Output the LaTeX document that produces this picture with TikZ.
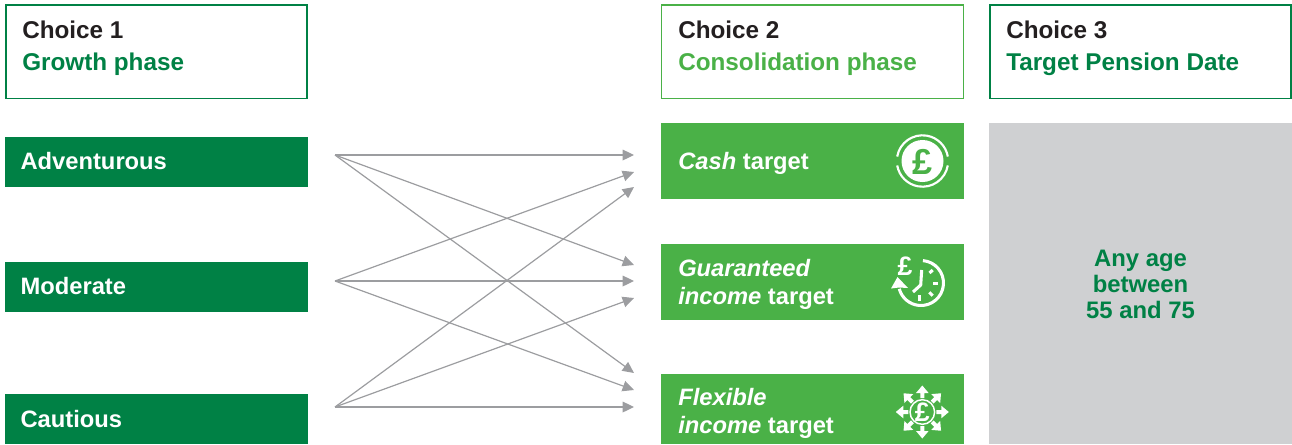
\documentclass[tikz,border=0pt]{standalone}
\usepackage{fontspec}
\setmainfont{Liberation Sans}
\usetikzlibrary{arrows.meta}
\definecolor{dgreen}{HTML}{008145}
\definecolor{lgreen}{HTML}{4AB147}
\definecolor{pgrey}{HTML}{CFD0D2}
\definecolor{agrey}{HTML}{9C9DA0}
\definecolor{ink}{HTML}{231F20}
\newcommand{\pf}{\fontsize{18.2pt}{21pt}\selectfont\bfseries}
\newcommand{\pb}{\fontsize{17.8pt}{21pt}\selectfont\bfseries}
\tikzset{
 x=0.75pt,y=-0.75pt,
 base/.style={inner sep=0pt,outer sep=0pt,anchor=north west},
 head/.style={base,draw=#1,line width=0.85pt,fill=white},
 fillbox/.style={base,fill=#1},
 lab/.style={anchor=base west,inner sep=0pt,align=left,font=\pf,white},
 blab/.style={anchor=west,inner sep=0pt,align=left,font=\pb,white},
 arr/.style={draw=agrey,line width=0.9pt,-{Triangle[length=8.5pt,width=8pt]}},
}
\newcommand{\rect}[6]{\node[#1,minimum width=#4*0.75pt,minimum height=#5*0.75pt] (#6) at (#2,#3) {};}
\begin{document}
\begin{tikzpicture}
\useasboundingbox (0,0) rectangle (1292,444);
% headers
\rect{head=dgreen}{6}{5}{301}{93.5}{h1}
\rect{head=lgreen}{661.5}{5}{302}{93.5}{h2}
\rect{head=dgreen}{990}{5}{301}{93.5}{h3}
\node[lab,ink] (h1a) at (22,38.5) {Choice 1};
\node[lab,dgreen] (h1b) at (22,70.5) {Growth phase};
\node[lab,ink] (h2a) at (678,38.5) {Choice 2};
\node[lab,lgreen] (h2b) at (678,70.5) {Consolidation phase};
\node[lab,ink] (h3a) at (1006,38.5) {Choice 3};
\node[lab,dgreen] (h3b) at (1006,70.5) {Target Pension Date};
% left boxes
\rect{fillbox=dgreen}{5}{137}{303}{50}{b1}
\rect{fillbox=dgreen}{5}{262}{303}{50}{b2}
\rect{fillbox=dgreen}{5}{394}{303}{50}{b3}
\node[blab] (t1) at (20.3,161) {Adventurous};
\node[blab] (t2) at (20.3,286) {Moderate};
\node[blab] (t3) at (20.3,419) {Cautious};
% middle boxes
\rect{fillbox=lgreen}{661}{123}{303}{76}{c1}
\rect{fillbox=lgreen}{661}{244}{303}{76}{c2}
\rect{fillbox=lgreen}{661}{374}{303}{70}{c3}
\node[blab] (u1) at (678,163.5) {\textit{Cash} target};
\node[blab] (u2) at (678,284.5) {\textit{Guaranteed}\\\textit{income} target};
\node[blab] (u3) at (678,413.5) {\textit{Flexible}\\\textit{income} target};
% right panel
\rect{fillbox=pgrey}{989}{123}{303}{321}{p}
\node[inner sep=0pt,align=center,font=\fontsize{17.9pt}{19.5pt}\selectfont\bfseries,dgreen] (pt) at (1140.5,284) {Any age\\between\\55 and 75};
% connectors
\coordinate (sa) at (335,155); \coordinate (sm) at (335,281); \coordinate (sc) at (335,407);
\coordinate (e1) at (634,155); \coordinate (e2) at (634,172); \coordinate (e3) at (634,187);
\coordinate (e4) at (634,265); \coordinate (e5) at (634,281); \coordinate (e6) at (634,298);
\coordinate (e7) at (634,373); \coordinate (e8) at (634,390); \coordinate (e9) at (634,407);
\foreach \s/\e in {sa/e1,sa/e4,sa/e7,sm/e2,sm/e5,sm/e8,sc/e3,sc/e6,sc/e9}
  \draw[arr] (\s) -- (\e);
% icon 1: cash
\fill[white] (922.5,161) circle (21);
\draw[white,line width=1.6pt] (922.5,161) ++(10:25.7) arc (10:170:25.7);
\draw[white,line width=1.6pt] (922.5,161) ++(190:25.7) arc (190:350:25.7);
\node[inner sep=0pt,lgreen,font=\fontsize{27pt}{27pt}\selectfont\bfseries] (i1) at (922.5,161.5) {£};
% icon 2: clock (angles measured in the flipped y axis)
\draw[white,line width=2.3pt] (921,283) ++(-85:22.5) arc (-85:165:22.5);
\fill[white] (897.5,277) -- (908,288) -- (899,287.5) -- (891,288.5) -- cycle;
\draw[white,line width=2.3pt] (921.7,270) -- (920.7,285) -- (913,292);
\draw[white,line width=2.3pt] (929.5,273) -- (932.7,270);
\draw[white,line width=2.3pt] (933,283.3) -- (938,283.3);
\draw[white,line width=2.3pt] (929.3,292.3) -- (932.7,295.7);
\draw[white,line width=2.3pt] (919.3,295) -- (919.3,301);
\node[inner sep=0pt,white,font=\fontsize{20pt}{20pt}\selectfont\bfseries] (i2) at (905,266) {£};
% icon 3: flexible
\draw[white,line width=1.1pt] (922.3,412) circle (12.3);
\node[inner sep=0pt,white,font=\fontsize{20pt}{20pt}\selectfont\bfseries] (i3) at (922.3,412) {£};
\foreach \a in {0,45,...,315}
  \fill[white,shift={(922.3,412)},rotate=\a]
    (14,-2) -- (19,-2) -- (19,-6.3) -- (26.5,0) -- (19,6.3) -- (19,2) -- (14,2) -- cycle;
\end{tikzpicture}
\end{document}
